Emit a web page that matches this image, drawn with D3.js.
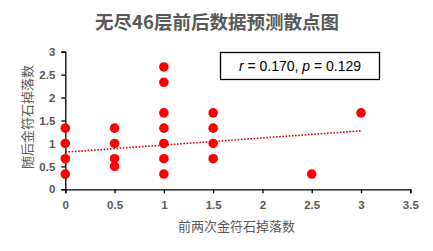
<!DOCTYPE html>
<html><head><meta charset="utf-8">
<script src="https://cdn.jsdelivr.net/npm/d3@7/dist/d3.min.js"></script>
<style>body{margin:0;background:#fff}svg{display:block}</style>
</head><body><svg id="c" width="433" height="251"></svg>
<script>
const title = "无尽46层前后数据预测散点图";
const xTitle = "前两次金符石掉落数";
const yTitle = "随后金符石掉落数";
const xVals = [0,0,0,0, 0.5,0.5,0.5,0.5, 1,1,1,1,1,1,1, 1.5,1.5,1.5,1.5, 2.5, 3];
const yVals = [1.333,1,0.667,0.333, 1.333,1,0.667,0.5, 2.667,2.333,1.667,1.333,1,0.667,0.333, 1.667,1.333,1,0.667, 0.333, 1.667];
const trendX = [0, 3];
const trendY = [0.81, 1.275];
const xTicks = [0,0.5,1,1.5,2,2.5,3,3.5];
const yTicks = [0,0.5,1,1.5,2,2.5,3];
const statR = "0.170", statP = "0.129";

const svg = d3.select("#c");
const x = d3.scaleLinear().domain([0,3.5]).range([65.3,410.3]);
const y = d3.scaleLinear().domain([0,3]).range([189.3,51.7]);
const font = "Calibri, 'Noto Sans CJK SC', 'Liberation Sans', sans-serif";
const grey = "#595959";

svg.append("text").attr("x",217).attr("y",29).attr("text-anchor","middle")
  .attr("font-family","'Noto Sans CJK SC', sans-serif").attr("font-weight","bold")
  .attr("font-size",18.5).attr("fill",grey).text(title);

const xa = svg.append("g").attr("transform","translate(0,"+y(0)+")")
  .call(d3.axisBottom(x).tickValues(xTicks).tickFormat(d3.format("")).tickSize(4).tickPadding(8));
const ya = svg.append("g").attr("transform","translate("+x(0)+",0)")
  .call(d3.axisLeft(y).tickValues(yTicks).tickFormat(d3.format("")).tickSize(4).tickPadding(6));
[xa,ya].forEach(a=>{
  a.select(".domain").attr("stroke","#000").attr("stroke-width",1.3);
  a.selectAll(".tick line").attr("stroke","#000").attr("stroke-width",1.3);
  a.selectAll(".tick text").attr("fill",grey).attr("font-size",11.5).attr("font-weight","bold")
   .attr("font-family","'Liberation Sans', 'DejaVu Sans', sans-serif");
});

svg.append("g").selectAll("circle").data(xVals).join("circle")
  .attr("cx",(d)=>x(d)).attr("cy",(d,i)=>y(yVals[i])).attr("r",4.8).attr("fill","#ff0000");

svg.append("line").attr("x1",x(trendX[0])).attr("y1",y(trendY[0]))
  .attr("x2",x(trendX[1])).attr("y2",y(trendY[1]))
  .attr("stroke","#e00000").attr("stroke-width",1.6).attr("stroke-dasharray","1.6,1.6");

svg.append("text").attr("x",236.5).attr("y",231).attr("text-anchor","middle")
  .attr("font-family","'Noto Sans CJK SC', sans-serif").attr("font-size",13).attr("fill",grey).text(xTitle);
svg.append("text").attr("transform","translate(32,117) rotate(-90)").attr("text-anchor","middle")
  .attr("font-family","'Noto Sans CJK SC', sans-serif").attr("font-size",13).attr("fill",grey).text(yTitle);

svg.append("rect").attr("x",220.5).attr("y",52.5).attr("width",159).attr("height",27)
  .attr("fill","#fff").attr("stroke","#000").attr("stroke-width",1.3);
const t = svg.append("text").attr("x",300).attr("y",71).attr("text-anchor","middle")
  .attr("font-family","'Liberation Sans', sans-serif").attr("font-size",14).attr("fill","#000");
t.append("tspan").attr("font-style","italic").text("r");
t.append("tspan").text(" = "+statR+", ");
t.append("tspan").attr("font-style","italic").text("p");
t.append("tspan").text(" = "+statP);
</script></body></html>
